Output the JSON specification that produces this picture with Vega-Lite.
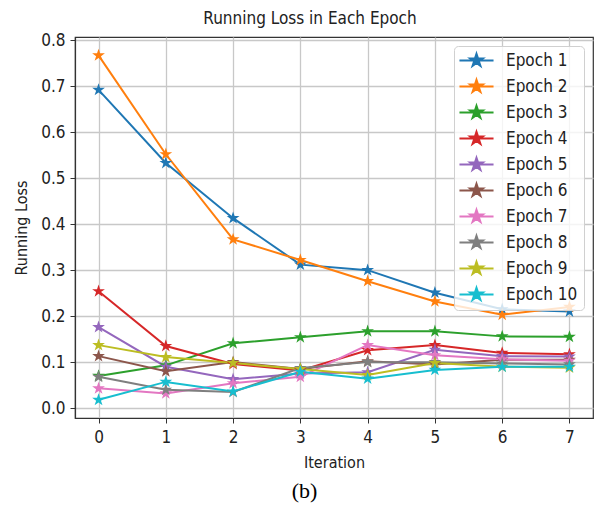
{
  "$schema": "https://vega.github.io/schema/vega-lite/v6.json",
  "width": 518,
  "height": 381,
  "autosize": "none",
  "padding": {"left": 75, "top": 37, "right": 6, "bottom": 94},
  "background": "white",
  "title": {
    "text": "Running Loss in Each Epoch",
    "font": "DejaVu Sans Condensed, DejaVu Sans",
    "fontSize": 17,
    "fontWeight": "normal",
    "color": "#222",
    "offset": 3,
    "dx": -24
  },
  "config": {
    "view": {"stroke": "#333", "strokeWidth": 1.2},
    "axis": {
      "labelFont": "DejaVu Sans Condensed, DejaVu Sans",
      "labelFontSize": 17,
      "labelColor": "#222",
      "titleFont": "DejaVu Sans Condensed, DejaVu Sans",
      "titleFontSize": 16,
      "titleFontWeight": "normal",
      "titleColor": "#222",
      "domainColor": "#333",
      "domainWidth": 1.2,
      "tickColor": "#333",
      "tickSize": 5,
      "tickWidth": 1,
      "gridColor": "#c8c8c8",
      "gridWidth": 1.3
    }
  },
  "data": {
    "values": [
      {"iteration": 0, "epoch": "Epoch 1", "loss": 0.692},
      {"iteration": 1, "epoch": "Epoch 1", "loss": 0.533},
      {"iteration": 2, "epoch": "Epoch 1", "loss": 0.413},
      {"iteration": 3, "epoch": "Epoch 1", "loss": 0.312},
      {"iteration": 4, "epoch": "Epoch 1", "loss": 0.300},
      {"iteration": 5, "epoch": "Epoch 1", "loss": 0.251},
      {"iteration": 6, "epoch": "Epoch 1", "loss": 0.215},
      {"iteration": 7, "epoch": "Epoch 1", "loss": 0.210},
      {"iteration": 0, "epoch": "Epoch 2", "loss": 0.767},
      {"iteration": 1, "epoch": "Epoch 2", "loss": 0.552},
      {"iteration": 2, "epoch": "Epoch 2", "loss": 0.367},
      {"iteration": 3, "epoch": "Epoch 2", "loss": 0.322},
      {"iteration": 4, "epoch": "Epoch 2", "loss": 0.276},
      {"iteration": 5, "epoch": "Epoch 2", "loss": 0.232},
      {"iteration": 6, "epoch": "Epoch 2", "loss": 0.203},
      {"iteration": 7, "epoch": "Epoch 2", "loss": 0.220},
      {"iteration": 0, "epoch": "Epoch 3", "loss": 0.070},
      {"iteration": 1, "epoch": "Epoch 3", "loss": 0.093},
      {"iteration": 2, "epoch": "Epoch 3", "loss": 0.141},
      {"iteration": 3, "epoch": "Epoch 3", "loss": 0.154},
      {"iteration": 4, "epoch": "Epoch 3", "loss": 0.167},
      {"iteration": 5, "epoch": "Epoch 3", "loss": 0.167},
      {"iteration": 6, "epoch": "Epoch 3", "loss": 0.156},
      {"iteration": 7, "epoch": "Epoch 3", "loss": 0.155},
      {"iteration": 0, "epoch": "Epoch 4", "loss": 0.254},
      {"iteration": 1, "epoch": "Epoch 4", "loss": 0.135},
      {"iteration": 2, "epoch": "Epoch 4", "loss": 0.096},
      {"iteration": 3, "epoch": "Epoch 4", "loss": 0.082},
      {"iteration": 4, "epoch": "Epoch 4", "loss": 0.126},
      {"iteration": 5, "epoch": "Epoch 4", "loss": 0.137},
      {"iteration": 6, "epoch": "Epoch 4", "loss": 0.120},
      {"iteration": 7, "epoch": "Epoch 4", "loss": 0.117},
      {"iteration": 0, "epoch": "Epoch 5", "loss": 0.176},
      {"iteration": 1, "epoch": "Epoch 5", "loss": 0.090},
      {"iteration": 2, "epoch": "Epoch 5", "loss": 0.063},
      {"iteration": 3, "epoch": "Epoch 5", "loss": 0.075},
      {"iteration": 4, "epoch": "Epoch 5", "loss": 0.078},
      {"iteration": 5, "epoch": "Epoch 5", "loss": 0.127},
      {"iteration": 6, "epoch": "Epoch 5", "loss": 0.113},
      {"iteration": 7, "epoch": "Epoch 5", "loss": 0.112},
      {"iteration": 0, "epoch": "Epoch 6", "loss": 0.113},
      {"iteration": 1, "epoch": "Epoch 6", "loss": 0.080},
      {"iteration": 2, "epoch": "Epoch 6", "loss": 0.100},
      {"iteration": 3, "epoch": "Epoch 6", "loss": 0.085},
      {"iteration": 4, "epoch": "Epoch 6", "loss": 0.102},
      {"iteration": 5, "epoch": "Epoch 6", "loss": 0.095},
      {"iteration": 6, "epoch": "Epoch 6", "loss": 0.105},
      {"iteration": 7, "epoch": "Epoch 6", "loss": 0.105},
      {"iteration": 0, "epoch": "Epoch 7", "loss": 0.043},
      {"iteration": 1, "epoch": "Epoch 7", "loss": 0.032},
      {"iteration": 2, "epoch": "Epoch 7", "loss": 0.054},
      {"iteration": 3, "epoch": "Epoch 7", "loss": 0.068},
      {"iteration": 4, "epoch": "Epoch 7", "loss": 0.137},
      {"iteration": 5, "epoch": "Epoch 7", "loss": 0.115},
      {"iteration": 6, "epoch": "Epoch 7", "loss": 0.106},
      {"iteration": 7, "epoch": "Epoch 7", "loss": 0.103},
      {"iteration": 0, "epoch": "Epoch 8", "loss": 0.068},
      {"iteration": 1, "epoch": "Epoch 8", "loss": 0.040},
      {"iteration": 2, "epoch": "Epoch 8", "loss": 0.035},
      {"iteration": 3, "epoch": "Epoch 8", "loss": 0.087},
      {"iteration": 4, "epoch": "Epoch 8", "loss": 0.100},
      {"iteration": 5, "epoch": "Epoch 8", "loss": 0.100},
      {"iteration": 6, "epoch": "Epoch 8", "loss": 0.097},
      {"iteration": 7, "epoch": "Epoch 8", "loss": 0.095},
      {"iteration": 0, "epoch": "Epoch 9", "loss": 0.137},
      {"iteration": 1, "epoch": "Epoch 9", "loss": 0.111},
      {"iteration": 2, "epoch": "Epoch 9", "loss": 0.098},
      {"iteration": 3, "epoch": "Epoch 9", "loss": 0.085},
      {"iteration": 4, "epoch": "Epoch 9", "loss": 0.072},
      {"iteration": 5, "epoch": "Epoch 9", "loss": 0.098},
      {"iteration": 6, "epoch": "Epoch 9", "loss": 0.090},
      {"iteration": 7, "epoch": "Epoch 9", "loss": 0.088},
      {"iteration": 0, "epoch": "Epoch 10", "loss": 0.018},
      {"iteration": 1, "epoch": "Epoch 10", "loss": 0.057},
      {"iteration": 2, "epoch": "Epoch 10", "loss": 0.036},
      {"iteration": 3, "epoch": "Epoch 10", "loss": 0.079},
      {"iteration": 4, "epoch": "Epoch 10", "loss": 0.064},
      {"iteration": 5, "epoch": "Epoch 10", "loss": 0.083},
      {"iteration": 6, "epoch": "Epoch 10", "loss": 0.090},
      {"iteration": 7, "epoch": "Epoch 10", "loss": 0.090}
    ]
  },
  "encoding": {
    "y": {
      "field": "loss",
      "type": "quantitative",
      "scale": {"domain": [-0.0215, 0.807], "nice": false, "zero": false},
      "axis": {
        "title": "Running Loss",
        "values": [0, 0.1, 0.2, 0.3, 0.4, 0.5, 0.6, 0.7, 0.8],
        "format": ".1f",
        "labelPadding": 5,
        "titlePadding": 11
      }
    },
    "color": {
      "field": "epoch",
      "type": "nominal",
      "scale": {
        "domain": ["Epoch 1", "Epoch 2", "Epoch 3", "Epoch 4", "Epoch 5", "Epoch 6", "Epoch 7", "Epoch 8", "Epoch 9", "Epoch 10"],
        "range": ["#1f77b4", "#ff7f0e", "#2ca02c", "#d62728", "#9467bd", "#8c564b", "#e377c2", "#7f7f7f", "#bcbd22", "#17becf"]
      },
      "legend": {
        "title": null,
        "orient": "top-right",
        "offset": 9,
        "padding": 6,
        "fillColor": "rgba(255,255,255,0.8)",
        "strokeColor": "#d0d0d0",
        "cornerRadius": 4,
        "labelFont": "DejaVu Sans Condensed, DejaVu Sans",
        "labelFontSize": 17,
        "labelColor": "#222",
        "labelOffset": 21,
        "rowPadding": 5,
        "symbolOffset": 8,
        "symbolSize": 180,
        "symbolStrokeWidth": 2,
        "symbolType": "M0,-1L0.2245,-0.309L0.951,-0.309L0.363,0.118L0.588,0.809L0,0.382L-0.588,0.809L-0.363,0.118L-0.951,-0.309L-0.2245,-0.309Z M-2.54,0L2.54,0"
      }
    }
  },
  "layer": [
    {
      "mark": {"type": "line", "strokeWidth": 2},
      "encoding": {
        "x": {
          "field": "iteration",
          "type": "quantitative",
          "scale": {"domain": [-0.35, 7.35], "nice": false, "zero": false},
          "axis": {
            "title": "Iteration",
            "values": [0, 1, 2, 3, 4, 5, 6, 7],
            "format": "d",
            "labelPadding": 6,
            "titlePadding": 9
          }
        }
      }
    },
    {
      "mark": {
        "type": "point",
        "filled": true,
        "opacity": 1,
        "size": 180,
        "shape": "M0,-1L0.2245,-0.309L0.951,-0.309L0.363,0.118L0.588,0.809L0,0.382L-0.588,0.809L-0.363,0.118L-0.951,-0.309L-0.2245,-0.309Z"
      },
      "encoding": {
        "x": {
          "field": "iteration",
          "type": "quantitative",
          "scale": {"domain": [-0.35, 7.35], "nice": false, "zero": false},
          "axis": {
            "title": "(b)",
            "labels": false,
            "ticks": false,
            "domain": false,
            "grid": false,
            "titleFont": "Liberation Serif",
            "titleFontSize": 22,
            "titleColor": "#000",
            "titleBaseline": "middle",
            "titleX": 229,
            "titleY": 453
          }
        }
      }
    }
  ],
  "resolve": {"axis": {"x": "independent"}}
}
